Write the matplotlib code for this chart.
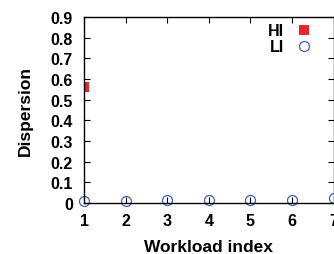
import numpy as np
import matplotlib.pyplot as plt
from matplotlib.ticker import FuncFormatter

plt.rcParams['font.family'] = ['Liberation Sans', 'DejaVu Sans']
plt.rcParams['font.weight'] = 'bold'

# data
workload = [1, 2, 3, 4, 5, 6, 7]
hi_x = [1]
hi_y = [0.56]
li_y = [0.011, 0.01, 0.015, 0.015, 0.015, 0.015, 0.025]
yticks = [0, 0.1, 0.2, 0.3, 0.4, 0.5, 0.6, 0.7, 0.8, 0.9]

fig = plt.figure(figsize=(3.34, 2.55), dpi=100)
ax = fig.add_axes([0.2515, 0.2, 0.7475, 0.7294])

ax.plot(hi_x, hi_y, linestyle='none', marker='s', markersize=7.8,
        color='#e8252b', markeredgewidth=0, label='HI', clip_on=True)
ax.plot(workload, li_y, linestyle='none', marker='o', markersize=7.2,
        markerfacecolor='none', markeredgecolor='#3d62c4',
        markeredgewidth=0.9, label='LI', clip_on=False)

ax.set_xlim(1, 7)
ax.set_ylim(0, 0.9)
ax.set_xticks(workload)
ax.set_yticks(yticks)
ax.yaxis.set_major_formatter(FuncFormatter(lambda v, p: '0' if v == 0 else '%.1f' % v))

ax.tick_params(direction='in', top=True, right=True, length=4, width=0.8,
               labelsize=11.5, pad=7)
ax.tick_params(axis='y', pad=8)
for lab in ax.get_xticklabels() + ax.get_yticklabels():
    lab.set_fontweight('bold')
for s in ax.spines.values():
    s.set_linewidth(1.0)

ax.set_xlabel('Workload index', fontsize=12.5, fontweight='bold', labelpad=8)
ax.set_ylabel('Dispersion', fontsize=12.5, fontweight='bold', labelpad=13)

leg = ax.legend(loc='upper right', frameon=False, markerfirst=False,
                prop={'size': 11.5, 'weight': 'bold'}, handlelength=1.0,
                handletextpad=0.75, labelspacing=0.05, borderaxespad=0.0,
                bbox_to_anchor=(0.94, 1.0))
for t in leg.get_texts():
    t.set_ha('right')

fig.savefig('out.png', dpi=100)
